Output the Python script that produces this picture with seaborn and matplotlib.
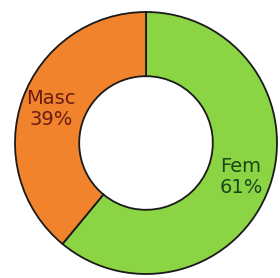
import matplotlib
matplotlib.use("Agg")
import matplotlib.pyplot as plt
import seaborn as sns

labels = ["Fem", "Masc"]
values = [61, 39]
colors = ["#8bd444", "#f0832b"]
text_colors = ["#1d461a", "#6a1d12"]

sns.set_theme(style="white")
plt.rcParams['font.family'] = ['DejaVu Sans']

fig = plt.figure(figsize=(2.80, 2.78), dpi=100)
ax = fig.add_axes([0, 0, 1, 1])
wedges, texts = ax.pie(values, colors=colors, startangle=90, counterclock=False,
                       radius=1.0,
                       wedgeprops=dict(width=0.49, edgecolor="#1a1a1a", linewidth=1.3))
import numpy as np
total = sum(values)
for w, lab, v, tc in zip(wedges, labels, values, text_colors):
    ang = np.deg2rad((w.theta1 + w.theta2) / 2)
    r = 0.77
    ax.text(r * np.cos(ang), r * np.sin(ang), f"{lab}\n{round(100 * v / total)}%",
            ha="center", va="center", fontsize=14, color=tc, linespacing=1.15)

r_px = 131.0
cx, cy = 146.0, 143.0
ax.set_xlim(-cx / r_px, (280 - cx) / r_px)
ax.set_ylim(-(278 - cy) / r_px, cy / r_px)
ax.set_aspect("auto")
ax.axis("off")
fig.savefig("out.png", dpi=100)
